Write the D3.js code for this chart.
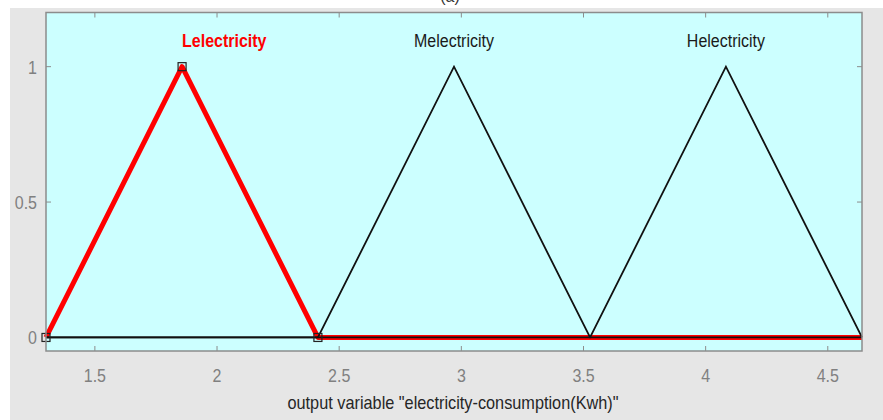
<!DOCTYPE html>
<html>
<head>
<meta charset="utf-8">
<script src="https://cdn.jsdelivr.net/npm/d3@7"></script>
<style>
  body { margin: 0; background: #fff; }
  text { font-family: "Liberation Sans", Arial, sans-serif; }
</style>
</head>
<body>
<div class="wrap"></div>
<script>
// membership functions of the output variable
const mfNames = ['Lelectricity', 'Melectricity', 'Helectricity']
const mfParams = [[1.3, 1.857, 2.413], [2.413, 2.97, 3.527], [3.527, 4.083, 4.64]]
const xRange = [1.3, 4.64]
const xTicks = [1.5, 2, 2.5, 3, 3.5, 4, 4.5]
const yTicks = [0, 0.5, 1]
const selected = 0
const xTitle = 'output variable "electricity-consumption(Kwh)"'

let W = 883, H = 420
let svg = d3.select('.wrap').append('svg')
  .attr('width', W)
  .attr('height', H)

// text is a bit taller than wide in the original
function tall(sel, px, py, s) {
  return sel.attr('transform', (d, i) => {
    let xx = typeof px === 'function' ? px(d, i) : px
    let yy = typeof py === 'function' ? py(d, i) : py
    return `translate(${xx},${yy}) scale(1,${s})`
  })
}

// figure background
svg.append('rect').attr('x', 10).attr('y', 8).attr('width', W - 10).attr('height', H - 8)
  .attr('fill', '#e6e6e6')

svg.append('text').attr('x', 450).attr('y', 2).attr('text-anchor', 'middle')
  .attr('font-size', 16).attr('fill', '#333').text('(a)')

let box = {left: 46, right: 862, top: 12.5, bottom: 351}

let x = d3.scaleLinear().domain(xRange).range([box.left, box.right])
let y = d3.scaleLinear().domain([-0.05, 1.2]).range([box.bottom, box.top])

svg.append('rect')
  .attr('x', box.left).attr('y', box.top)
  .attr('width', box.right - box.left).attr('height', box.bottom - box.top)
  .attr('fill', '#ccffff')

// ticks inside the box, all four sides
let tickLen = 5
let tg = svg.append('g').attr('stroke', '#8c8c8c').attr('stroke-width', 1)
xTicks.forEach(t => {
  tg.append('line').attr('x1', x(t)).attr('x2', x(t)).attr('y1', box.bottom).attr('y2', box.bottom - tickLen)
  tg.append('line').attr('x1', x(t)).attr('x2', x(t)).attr('y1', box.top).attr('y2', box.top + tickLen)
})
yTicks.forEach(t => {
  tg.append('line').attr('y1', y(t)).attr('y2', y(t)).attr('x1', box.left).attr('x2', box.left + tickLen)
  tg.append('line').attr('y1', y(t)).attr('y2', y(t)).attr('x1', box.right).attr('x2', box.right - tickLen)
})

tall(svg.append('g').selectAll('text')
  .data(xTicks).enter().append('text')
  .attr('text-anchor', 'middle')
  .attr('font-size', 16).attr('fill', '#808080')
  .text(d => d), d => x(d), 382, 1.2)

tall(svg.append('g').selectAll('text')
  .data(yTicks).enter().append('text')
  .attr('text-anchor', 'end')
  .attr('font-size', 16).attr('fill', '#808080')
  .text(d => d), 37, d => y(d) + 7, 1.2)

tall(svg.append('text')
  .attr('text-anchor', 'middle').attr('font-size', 16.3).attr('fill', '#262626')
  .text(xTitle), 453, 409, 1.15)

// each triangle padded with zero out to the ends of the range
function mfPoints(p) {
  return [[xRange[0], 0], [p[0], 0], [p[1], 1], [p[2], 0], [xRange[1], 0]]
}

let line = d3.line().x(d => x(d[0])).y(d => y(d[1]))

let plot = svg.append('g')

// selected one first, thick red, others over it in black
plot.append('path')
  .attr('d', line(mfPoints(mfParams[selected])))
  .attr('fill', 'none').attr('stroke', '#ff0000').attr('stroke-width', 5)
  .attr('stroke-linejoin', 'round')

mfParams.forEach((p, i) => {
  if (i === selected) return
  plot.append('path')
    .attr('d', line(mfPoints(p)))
    .attr('fill', 'none').attr('stroke', '#111').attr('stroke-width', 1.8)
})

// vertex squares on the selected function
plot.selectAll('rect.mk')
  .data([[mfParams[selected][0], 0], [mfParams[selected][1], 1], [mfParams[selected][2], 0]])
  .enter().append('rect')
  .attr('class', 'mk')
  .attr('x', d => x(d[0]) - 4).attr('y', d => y(d[1]) - 4)
  .attr('width', 8).attr('height', 8)
  .attr('fill', 'none').attr('stroke', '#222').attr('stroke-width', 1.2)

// names above peaks
tall(svg.append('g').selectAll('text')
  .data(mfNames).enter().append('text')
  .attr('text-anchor', (d, i) => i === selected ? 'start' : 'middle')
  .attr('font-size', 16)
  .attr('font-weight', (d, i) => i === selected ? 'bold' : 'normal')
  .attr('fill', (d, i) => i === selected ? '#ff0000' : '#1a1a1a')
  .text(d => d), (d, i) => i === selected ? x(mfParams[i][1]) + 0 : x(mfParams[i][1]), 47, 1.1)

// box outline on top
svg.append('rect')
  .attr('x', box.left).attr('y', box.top)
  .attr('width', box.right - box.left).attr('height', box.bottom - box.top)
  .attr('fill', 'none').attr('stroke', '#8c8c8c').attr('stroke-width', 1.5)
</script>
</body>
</html>
